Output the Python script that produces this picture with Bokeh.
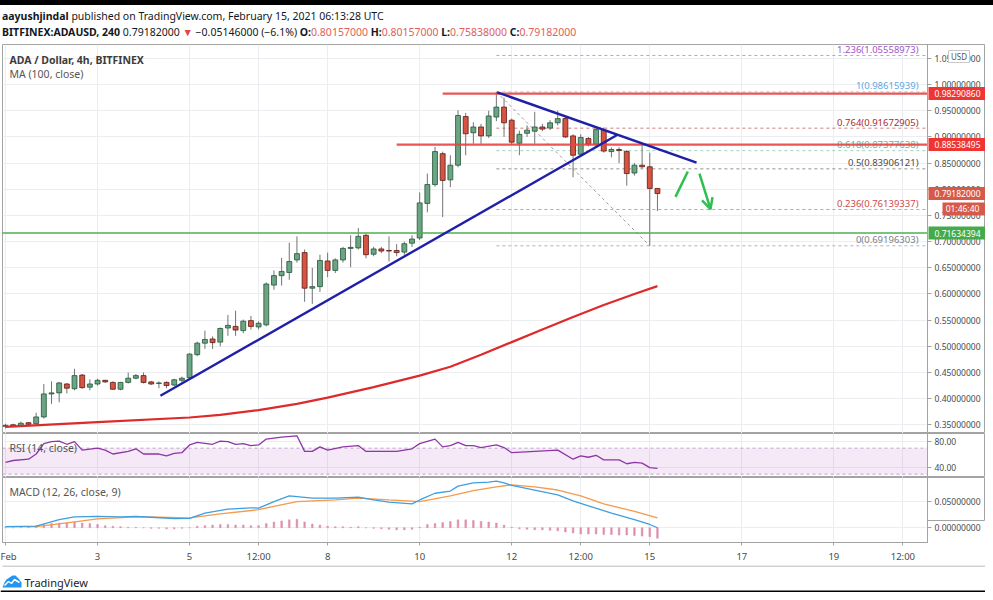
from bokeh.plotting import figure
from bokeh.layouts import column, row
from bokeh.models import (ColumnDataSource, FixedTicker, PrintfTickFormatter, Range1d,
                          Label, Div, Arrow, OpenHead, Span, BoxAnnotation)
from bokeh.embed import file_html
from bokeh.resources import INLINE
from bokeh.core.properties import value

# ---------------- data (4h bars, Feb 1 00:00 = bar 0) ----------------
bar_index = list(range(86))
opens = [0.347, 0.350, 0.349, 0.354, 0.352, 0.365, 0.409, 0.411, 0.428, 0.419,
         0.445, 0.422, 0.428, 0.435, 0.431, 0.418, 0.431, 0.439, 0.444, 0.432,
         0.429, 0.431, 0.426, 0.435, 0.440, 0.484, 0.506, 0.514, 0.508, 0.535,
         0.538, 0.530, 0.549, 0.537, 0.541, 0.617, 0.635, 0.641, 0.665, 0.679,
         0.611, 0.614, 0.663, 0.645, 0.665, 0.687, 0.688, 0.712, 0.676, 0.686,
         0.683, 0.683, 0.680, 0.697, 0.707, 0.773, 0.809, 0.868, 0.818, 0.846,
         0.939, 0.908, 0.919, 0.902, 0.938, 0.957, 0.932, 0.888, 0.907, 0.911,
         0.919, 0.917, 0.927, 0.935, 0.902, 0.867, 0.897, 0.886, 0.913, 0.872,
         0.876, 0.872, 0.831, 0.846, 0.843, 0.80157]
highs = [0.352, 0.352, 0.356, 0.355, 0.373, 0.428, 0.433, 0.432, 0.430, 0.457,
         0.447, 0.437, 0.438, 0.436, 0.433, 0.432, 0.450, 0.447, 0.450, 0.434,
         0.433, 0.433, 0.438, 0.442, 0.487, 0.509, 0.530, 0.519, 0.536, 0.560,
         0.568, 0.551, 0.558, 0.548, 0.622, 0.645, 0.669, 0.698, 0.710, 0.685,
         0.650, 0.675, 0.679, 0.668, 0.690, 0.712, 0.726, 0.716, 0.690, 0.690,
         0.710, 0.695, 0.700, 0.712, 0.794, 0.830, 0.881, 0.872, 0.865, 0.951,
         0.946, 0.928, 0.925, 0.950, 0.98616, 0.975, 0.935, 0.912, 0.922, 0.948,
         0.925, 0.932, 0.950, 0.940, 0.905, 0.905, 0.900, 0.918, 0.918, 0.880,
         0.880, 0.875, 0.850, 0.884, 0.870, 0.80157]
lows = [0.343, 0.346, 0.347, 0.347, 0.350, 0.362, 0.390, 0.393, 0.410, 0.416,
        0.419, 0.416, 0.425, 0.430, 0.417, 0.416, 0.429, 0.437, 0.429, 0.426,
        0.420, 0.420, 0.424, 0.430, 0.438, 0.481, 0.495, 0.495, 0.500, 0.520,
        0.520, 0.525, 0.532, 0.532, 0.538, 0.608, 0.616, 0.627, 0.660, 0.585,
        0.581, 0.604, 0.632, 0.640, 0.660, 0.651, 0.685, 0.668, 0.672, 0.678,
        0.662, 0.672, 0.675, 0.690, 0.703, 0.756, 0.805, 0.747, 0.804, 0.842,
        0.865, 0.887, 0.887, 0.898, 0.930, 0.900, 0.885, 0.865, 0.900, 0.887,
        0.911, 0.913, 0.922, 0.898, 0.823, 0.862, 0.882, 0.880, 0.870, 0.861,
        0.850, 0.807, 0.826, 0.840, 0.69196, 0.75838]
closes = [0.349, 0.348, 0.353, 0.351, 0.365, 0.409, 0.411, 0.430, 0.420, 0.444,
          0.421, 0.428, 0.435, 0.432, 0.418, 0.431, 0.439, 0.444, 0.431, 0.428,
          0.430, 0.425, 0.436, 0.439, 0.485, 0.506, 0.513, 0.507, 0.534, 0.540,
          0.531, 0.548, 0.538, 0.544, 0.619, 0.635, 0.643, 0.662, 0.677, 0.611,
          0.614, 0.664, 0.645, 0.665, 0.687, 0.689, 0.710, 0.675, 0.686, 0.682,
          0.682, 0.679, 0.696, 0.705, 0.774, 0.809, 0.872, 0.817, 0.846, 0.941,
          0.906, 0.919, 0.902, 0.940, 0.957, 0.927, 0.890, 0.905, 0.913, 0.919,
          0.915, 0.927, 0.935, 0.900, 0.865, 0.899, 0.886, 0.914, 0.873, 0.876,
          0.874, 0.830, 0.846, 0.843, 0.80157, 0.79182]

ma_idx = [0, 12, 24, 28, 33, 38, 42, 48, 54, 58, 62, 66, 70, 74, 78, 82, 85]
ma_val = [0.346, 0.355, 0.364, 0.369, 0.378, 0.390, 0.402, 0.422, 0.444, 0.461,
          0.484, 0.508, 0.532, 0.556, 0.579, 0.600, 0.615]

rsi_idx = [0, 1, 3, 4, 5, 6, 7, 8, 9, 10, 12, 13, 14, 16, 17, 18, 20, 21, 22, 23,
           24, 25, 27, 28, 29, 30, 31, 32, 33, 34, 36, 38, 39, 40, 41, 42, 44, 46, 47, 49,
           51, 53, 54, 56, 57, 58, 59, 60, 61, 62, 64, 65, 66, 69, 72, 74, 75, 76, 77, 78,
           80, 81, 82, 83, 84, 85]
rsi_val = [48, 51, 53, 61, 77, 80, 81, 76, 80, 67, 70, 67, 61, 65, 69, 61, 61, 58, 62, 63,
           75, 79, 76, 81, 80, 76, 77, 74, 75, 84, 87, 89, 65, 65, 72, 67, 72, 74, 65, 65,
           65, 69, 77, 84, 72, 74, 79, 74, 74, 71, 75, 71, 63, 65, 67, 53, 58, 56, 59, 52,
           52, 46, 48, 47, 40, 39]

macd_idx = [0, 4, 7, 9, 12, 15, 17, 19, 22, 24, 26, 29, 32, 33, 35, 37, 40, 43, 46, 48,
            50, 53, 54, 56, 58, 59, 61, 63, 64, 65, 66, 69, 72, 74, 76, 79, 82, 84, 85]
macd_val = [0.002, 0.003, 0.0156, 0.0207, 0.0218, 0.0207, 0.0218, 0.020, 0.0175, 0.018,
            0.028, 0.0357, 0.038, 0.0376, 0.050, 0.0607, 0.0564, 0.0564, 0.0583, 0.053,
            0.0489, 0.0457, 0.053, 0.0658, 0.070, 0.0795, 0.0857, 0.087, 0.089, 0.0857,
            0.0808, 0.072, 0.0626, 0.0513, 0.0419, 0.028, 0.0156, 0.0062, 0.000]
signal_idx = [0, 4, 8, 12, 17, 20, 24, 28, 33, 35, 38, 43, 46, 50, 54, 58, 61, 64, 66,
              69, 72, 75, 78, 82, 85]
signal_val = [0.002, 0.002, 0.0094, 0.017, 0.0207, 0.020, 0.0188, 0.0263, 0.0344, 0.0406,
              0.050, 0.053, 0.0564, 0.053, 0.050, 0.0607, 0.0707, 0.078, 0.082,
              0.078, 0.072, 0.0607, 0.0457, 0.0312, 0.0188]
hist_val = [0.000, 0.000, 0.001, 0.002, 0.004, 0.006, 0.008, 0.009, 0.010, 0.011,
            0.009, 0.008, 0.006, 0.004, 0.003, 0.002, 0.001, 0.001, 0.000, -0.001,
            -0.001, -0.002, -0.002, -0.001, 0.000, 0.003, 0.004, 0.005, 0.006, 0.006,
            0.005, 0.005, 0.004, 0.004, 0.008, 0.011, 0.013, 0.015, 0.016, 0.011,
            0.007, 0.005, 0.003, 0.002, 0.002, 0.001, 0.002, 0.000, -0.001, -0.002,
            -0.003, -0.004, -0.004, -0.003, 0.001, 0.006, 0.008, 0.010, 0.012, 0.015,
            0.015, 0.014, 0.012, 0.011, 0.009, 0.005, 0.001, -0.002, -0.003, -0.004,
            -0.004, -0.005, -0.006, -0.008, -0.010, -0.012, -0.012, -0.012, -0.013, -0.013,
            -0.014, -0.014, -0.015, -0.016, -0.017, -0.020]

x_tick_pos = [0, 12, 24, 33, 42, 54, 66, 75, 84, 96, 108, 117]
x_tick_labels = ["Feb", "3", "5", "12:00", "8", "10", "12", "12:00", "15", "17", "19", "12:00"]
price_ticks = [0.35, 0.40, 0.45, 0.50, 0.55, 0.60, 0.65, 0.70, 0.75, 0.80, 0.85, 0.90,
               0.95, 1.00, 1.05]
rsi_ticks = [80, 40]
macd_ticks = [0.05, 0.0]

fib_ratios = ["1.236", "1", "0.764", "0.618", "0.5", "0.236", "0"]
fib_prices = [1.05558973, 0.98615939, 0.91672905, 0.87377638, 0.83906121, 0.76139337, 0.69196303]
fib_colors = ["#a552cc", "#5ea8e4", "#b02a2a", "#5fb5a4", "#4a4a4a", "#cc4b4b", "#7d7f88"]
fib_start = 64

res_levels = [0.98290860, 0.88538495]
res_start = [57, 51]
support_level = 0.71634394

rise_x, rise_y = [20.2, 79.8], [0.4056, 0.9042]
fall_x, fall_y = [64.1, 90.1], [0.9853, 0.8511]
swing_x, swing_y = [64, 84], [0.98615939, 0.69196303]
up_leg_x, up_leg_y = [87.35, 88.96], [0.7854, 0.8339]
down_leg = [90.48, 0.8301, 91.92, 0.7619]

last_price = 0.79182000
countdown = "01:46:40"
countdown_y = 0.7624
currency = "USD"
currency_y = 1.0537

# ---------------- styling ----------------
FONT = "Noto Sans"
W = 985
LB, RB = 2, 58
XR = (-0.39, 120.21)
X_RANGE = Range1d(*XR)
GRID = "#ecedf1"
BORDER = "#a3a3a3"
UP, DOWN = "#6ba583", "#d75442"
UP_B, DOWN_B = "#225437", "#5b1a13"
WICK = "#737375"
px_per_bar = (W - LB - RB) / (XR[1] - XR[0])


def canvas_to_x(cx):
    return XR[0] + (cx - LB) / px_per_bar


def make_fig(height, y_range, bottom=0):
    p = figure(width=W, height=height, x_range=X_RANGE, y_range=y_range,
               output_backend="svg", toolbar_location=None, y_axis_location="right",
               min_border_left=LB, min_border_right=RB, min_border_top=0,
               min_border_bottom=bottom)
    p.outline_line_color = BORDER
    p.background_fill_color = "white"
    p.border_fill_color = "white"
    p.xgrid.ticker = FixedTicker(ticks=x_tick_pos)
    p.xgrid.grid_line_color = GRID
    p.ygrid.grid_line_color = GRID
    return p


def style_yaxis(p, ticks, fmt):
    ax = p.yaxis[0]
    ax.ticker = FixedTicker(ticks=ticks)
    p.ygrid.ticker = FixedTicker(ticks=ticks)
    ax.formatter = PrintfTickFormatter(format=fmt)
    ax.major_label_text_font = FONT
    ax.major_label_text_font_size = "8.5px"
    ax.major_label_text_color = "#4a4a4a"
    ax.axis_line_color = BORDER
    ax.major_tick_line_color = BORDER
    ax.major_tick_out = 4
    ax.major_tick_in = 0
    ax.minor_tick_line_color = None
    ax.major_label_standoff = 3


def overlay(height, y_range):
    # transparent strip laid over the price-scale area (tags and pane borders)
    o = figure(width=RB, height=height, x_range=Range1d(0, RB), y_range=y_range,
               output_backend="svg", toolbar_location=None, x_axis_location=None,
               y_axis_location=None, min_border=0, margin=(0, 0, 0, -RB))
    o.background_fill_color = None
    o.border_fill_color = None
    o.outline_line_color = BORDER
    o.grid.visible = False
    return o


# ---------------- header ----------------
RED_TXT = "#e0605a"
header_html = (
    "<div style='height:5px;background:#000;width:993px'></div>"
    "<div style=\"font-family:'Noto Sans';font-size:10.5px;line-height:16px;color:#131722;"
    "white-space:nowrap;padding-top:3px;padding-left:2px\">"
    "<b>aayushjindal</b> published on TradingView.com, February 15, 2021 06:13:28 UTC<br>"
    "<b>BITFINEX:ADAUSD, 240</b> 0.79182000 "
    "<span style='color:#e04848'>&#9660;</span> &minus;0.05146000 (&minus;6.1%) "
    f"<b>O:</b><span style='color:{RED_TXT}'>0.80157000</span> "
    f"<b>H:</b><span style='color:{RED_TXT}'>0.80157000</span> "
    f"<b>L:</b><span style='color:{RED_TXT}'>0.75838000</span> "
    f"<b>C:</b><span style='color:{RED_TXT}'>0.79182000</span>"
    "</div>"
)
header = Div(text=header_html, width=W, height=44, margin=(0, 0, 0, 0))

# ---------------- main price pane ----------------
main_y = Range1d(0.3334, 1.0766)
main = make_fig(389, main_y)
main.xaxis.visible = False
style_yaxis(main, price_ticks, "%.8f")

# fib retracement
for price, col in zip(fib_prices, fib_colors):
    main.segment(x0=fib_start, y0=price, x1=125, y1=price, line_color=col,
                 line_alpha=0.6, line_width=1, line_dash="3 3")
main.line(swing_x, swing_y, line_color="#9a9a9a", line_width=1, line_dash="3 3")
fib_src = ColumnDataSource(dict(
    x=[canvas_to_x(918)] * len(fib_prices), y=fib_prices,
    text=[f"{r}({v:.8f})" for r, v in zip(fib_ratios, fib_prices)], color=fib_colors))
main.text(x="x", y="y", text="text", text_color="color", source=fib_src,
          text_align="right", text_baseline="middle", text_font=value(FONT),
          text_font_size=value("9.5px"), y_offset=-6)

# candles
src = ColumnDataSource(dict(
    x=bar_index, o=opens, h=highs, l=lows, c=closes,
    top=[max(o, c) for o, c in zip(opens, closes)],
    bottom=[min(o, c) for o, c in zip(opens, closes)],
    fill=[UP if c >= o else DOWN for o, c in zip(opens, closes)],
    line=[UP_B if c >= o else DOWN_B for o, c in zip(opens, closes)]))
main.segment(x0="x", y0="l", x1="x", y1="h", source=src, line_color=WICK, line_width=1)
main.vbar(x="x", width=0.64, top="top", bottom="bottom", fill_color="fill",
          line_color="line", line_width=0.8, source=src)

# moving average
main.line(ma_idx, ma_val, line_color="#dd2a2a", line_width=2.2)

# horizontal levels
main.segment(x0=-1, y0=support_level, x1=125, y1=support_level, line_color="#4caf50", line_width=1.5)
for lvl, st in zip(res_levels, res_start):
    main.segment(x0=st, y0=lvl, x1=125, y1=lvl, line_color="#e84444", line_width=2.2, line_alpha=0.9)

# trend lines
main.line(rise_x, rise_y, line_color="#1f1fa8", line_width=2.4)
main.line(fall_x, fall_y, line_color="#1f1fa8", line_width=2.4)

# green scenario arrows
GREEN = "#2fbf4f"
main.line(up_leg_x, up_leg_y, line_color=GREEN, line_width=2.5)
main.add_layout(Arrow(end=OpenHead(size=11, line_color=GREEN, line_width=2.5),
                      x_start=down_leg[0], y_start=down_leg[1], x_end=down_leg[2], y_end=down_leg[3],
                      line_color=GREEN, line_width=2.5))

# pane legends
main.add_layout(Label(x=canvas_to_x(9), y=1.0479, text="ADA / Dollar, 4h, BITFINEX",
                      text_font=FONT, text_font_size="10.5px", text_font_style="bold",
                      text_color="#3c3c3c", text_baseline="middle"))
main.add_layout(Label(x=canvas_to_x(9), y=1.0211, text="MA (100, close)",
                      text_font=FONT, text_font_size="10.5px", text_color="#555555",
                      text_baseline="middle"))

# price-scale tags (overlay strip above the axis)
main_tags = overlay(389, main_y)
tag_src = ColumnDataSource(dict(
    y=[res_levels[0], res_levels[1], last_price, support_level],
    text=[f"{v:.8f}" for v in (res_levels[0], res_levels[1], last_price, support_level)],
    bg=["#ef3434", "#ef3434", "#d65a4a", "#45ab4a"]))
main_tags.rect(x=30.5, y="y", width=59, height=13, height_units="screen",
               fill_color="bg", line_color=None, source=tag_src)
main_tags.text(x=7, y="y", text="text", source=tag_src, text_color="white",
               text_baseline="middle", text_font=value(FONT), text_font_size=value("8.5px"))
main_tags.rect(x=37.5, y=countdown_y, width=45, height=13, height_units="screen",
               fill_color="#d65a4a", line_color=None)
main_tags.text(x=[35], y=[countdown_y], text=[countdown], text_color="white", text_align="center",
               text_baseline="middle", text_font=value(FONT), text_font_size=value("8.5px"))
main_tags.rect(x=31.5, y=currency_y, width=21, height=12, height_units="screen",
               fill_color="white", line_color="#c8c8c8")
main_tags.text(x=[31.5], y=[currency_y], text=[currency], text_color="#555555", text_align="center",
               text_baseline="middle", text_font=value(FONT), text_font_size=value("8px"))

# ---------------- RSI pane ----------------
rsi_y = Range1d(24.8, 92.6)
rsi = make_fig(44, rsi_y)
rsi.xaxis.visible = False
style_yaxis(rsi, rsi_ticks, "%.2f")
rsi.add_layout(BoxAnnotation(bottom=30, top=70, fill_color="#9c27b0", fill_alpha=0.1,
                             line_color=None, level="underlay"))
for lv in (70, 30):
    rsi.add_layout(Span(location=lv, dimension="width", line_color="#b9a3c9",
                        line_dash="3 3", line_width=1, level="underlay"))
rsi.line(rsi_idx, rsi_val, line_color="#8e36a6", line_width=1.3)
rsi.add_layout(Label(x=canvas_to_x(9), y=70.9, text="RSI (14, close)", text_font=FONT,
                     text_font_size="10.5px", text_color="#555555", text_baseline="middle"))
rsi_over = overlay(44, rsi_y)

# ---------------- MACD pane ----------------
macd_y = Range1d(-0.0282, 0.0959)
macd = make_fig(88, macd_y, bottom=22)
style_yaxis(macd, macd_ticks, "%.8f")
macd.vbar(x=bar_index, top=hist_val, bottom=0, width=0.22, fill_color="#dc8fae",
          line_color="#dc8fae", line_width=0.5)
macd.line(signal_idx, signal_val, line_color="#f5994a", line_width=1.3)
macd.line(macd_idx, macd_val, line_color="#3f9fde", line_width=1.3)
macd.add_layout(Label(x=canvas_to_x(9), y=0.0688, text="MACD (12, 26, close, 9)", text_font=FONT,
                      text_font_size="10.5px", text_color="#555555", text_baseline="middle"))
xa = macd.xaxis[0]
xa.ticker = FixedTicker(ticks=x_tick_pos)
xa.major_label_overrides = {t: lab for t, lab in zip(x_tick_pos, x_tick_labels)}
xa.major_label_text_font = FONT
xa.major_label_text_font_size = "9.5px"
xa.major_label_text_color = "#4a4a4a"
xa.axis_line_color = BORDER
xa.major_tick_line_color = BORDER
xa.major_tick_out = 3
xa.major_tick_in = 0
xa.minor_tick_line_color = None
xa.major_label_standoff = 4
macd_over = overlay(66, macd_y)

# ---------------- footer ----------------
foot = figure(width=W, height=27, x_range=Range1d(0, W), y_range=Range1d(27, 0),
              output_backend="svg", toolbar_location=None, x_axis_location=None,
              y_axis_location=None, min_border=0)
foot.outline_line_color = None
foot.grid.visible = False
foot.segment(x0=2, y0=0.5, x1=W, y1=0.5, line_color=BORDER, line_width=1)
foot.quad(left=0, right=W, top=25, bottom=27, fill_color="black", line_color=None)
foot.patch([2, 4, 6, 9, 12, 15, 18, 21, 21, 2], [22, 17, 14, 12, 10, 10, 13, 17, 22, 22],
           fill_color="#2196f3", line_color=None)
foot.line([4, 8, 11, 14, 19], [20, 16, 18, 14, 17], line_color="white", line_width=1.5)
foot.text(x=[24], y=[17], text=["TradingView"], text_font=value(FONT),
          text_font_size=value("11px"), text_color="#222222", text_baseline="middle")

layout = column(header, row(main, main_tags), row(rsi, rsi_over), row(macd, macd_over), foot,
                spacing=0)
open("out.html", "w").write(file_html(layout, INLINE))
